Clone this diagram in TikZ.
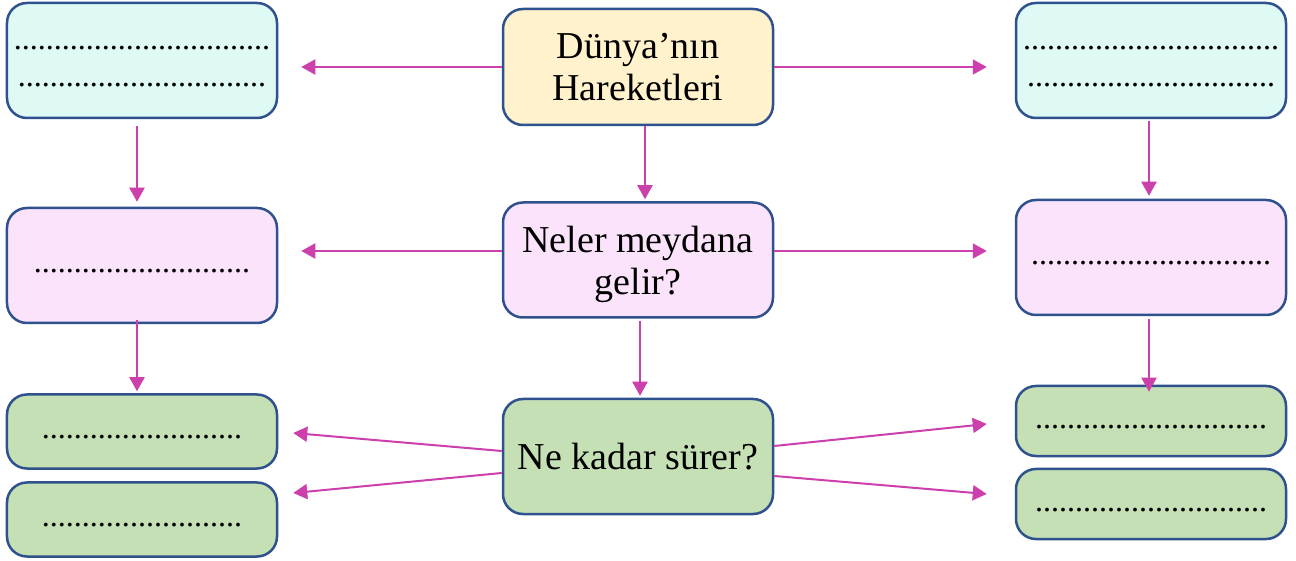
\documentclass[tikz,border=0pt]{standalone}
\usepackage{fontspec}
\setmainfont{Liberation Serif}
\usetikzlibrary{arrows.meta,calc}
\definecolor{bord}{HTML}{2F528F}
\definecolor{cyanf}{HTML}{DFFAF5}
\definecolor{yelf}{HTML}{FFF2CC}
\definecolor{pinkf}{HTML}{FBE4FB}
\definecolor{greenf}{HTML}{C5E0B4}
\definecolor{arrc}{HTML}{CC40AC}
\begin{document}
\begin{tikzpicture}[x=1bp,y=-1bp,
  box/.style={draw=bord,line width=2.5bp,rounded corners=20bp,minimum width=270bp,inner sep=0pt,align=center},
  bigbox/.style={box,minimum height=115bp,font=\fontsize{38bp}{42bp}\selectfont},
  dotbox/.style={box,font=\fontsize{32bp}{37bp}\selectfont},
  arw/.style={draw=arrc,line width=2bp,-{Triangle[length=14bp,width=15bp]}}
]
\fill[white] (0,0) rectangle (1296,561);
\useasboundingbox (0,0) rectangle (1296,561);

% top row
\node[dotbox,fill=cyanf,minimum height=115bp] (tl) at (142,60.5)
  {\strut................................\\\strut...............................};
\node[bigbox,fill=yelf,minimum height=116bp] (tc) at (638,67) {Dünya’nın\\Hareketleri};
\node[dotbox,fill=cyanf,minimum height=115bp] (tr) at (1151,60.5)
  {\strut................................\\\strut...............................};

% middle row
\node[dotbox,fill=pinkf,minimum height=115bp] (ml) at (142,265.5) {\strut...........................};
\node[bigbox,fill=pinkf,text depth=0pt] (mc) at (638,260) {Neler meydana\\gelir?};
\node[dotbox,fill=pinkf,minimum height=115bp] (mr) at (1151,257.5) {\strut..............................};

% bottom row
\node[dotbox,fill=greenf,minimum height=74bp] (bl1) at (142,431.5) {\strut.........................};
\node[dotbox,fill=greenf,minimum height=74bp] (bl2) at (142,519.5) {\strut.........................};
\node[bigbox,fill=greenf] (bc) at (638,456.5) {Ne kadar sürer?};
\node[dotbox,fill=greenf,minimum height=70bp] (br1) at (1151,421) {\strut.............................};
\node[dotbox,fill=greenf,minimum height=70bp] (br2) at (1151,504) {\strut.............................};

% arrows top
\draw[arw] (tc.west) -- ($(tc.west -| tl.east)+(23,0)$);
\draw[arw] (tc.east) -- ($(tc.east -| tr.west)+(-28,0)$);
\draw[arw] ($(tc.south)+(7,0)$) -- ($(tc.south |- mc.north)+(7,-2)$);
\draw[arw] ($(tl.south)+(-5,7)$) -- ($(tl.south |- ml.north)+(-5,-5)$);
\draw[arw] ($(tr.south)+(-2,2)$) -- ($(tr.south |- mr.north)+(-2,-3)$);

% arrows middle
\draw[arw] ($(mc.west)+(0,-9)$) -- ($(mc.west -| ml.east)+(23,-9)$);
\draw[arw] ($(mc.east)+(0,-9)$) -- ($(mc.east -| mr.west)+(-28,-9)$);
\draw[arw] ($(mc.south)+(2,2)$) -- ($(mc.south |- bc.north)+(2,-2)$);
\draw[arw] ($(ml.south)+(-5,-4)$) -- ($(ml.south |- bl1.north)+(-5,-2)$);
\draw[arw] ($(mr.south)+(-2,3)$) -- ($(mr.south |- br1.north)+(-2,7)$);

% arrows bottom
\draw[arw] ($(bc.west)+(0,-5.5)$) -- ($(bl1.east)+(15,1.5)$);
\draw[arw] ($(bc.west)+(0,16.5)$) -- ($(bl2.east)+(15,-26.5)$);
\draw[arw] ($(bc.east)+(0,-10.5)$) -- ($(br1.west)+(-28,3)$);
\draw[arw] ($(bc.east)+(0,19.5)$) -- ($(br2.west)+(-28,-10)$);
\end{tikzpicture}
\end{document}
